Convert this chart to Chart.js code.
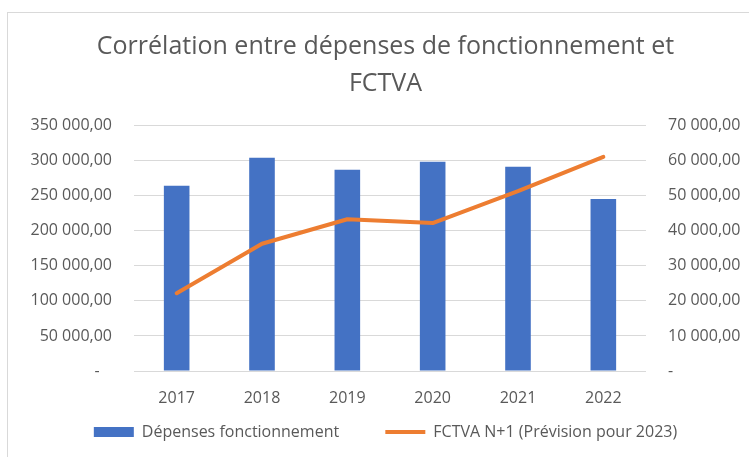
<!DOCTYPE html>
<html>
<head>
<meta charset="utf-8">
<script src="https://cdn.jsdelivr.net/npm/chart.js@4/dist/chart.umd.min.js"></script>
<style>
  html, body { margin: 0; padding: 0; background: #fff; overflow: hidden; }
  #frame { position: absolute; left: 7px; top: 12px; width: 800px; height: 500px; border: 1px solid #d9d9d9; box-sizing: border-box; }
  #c { position: absolute; left: 0; top: 0; }
</style>
</head>
<body>
<div id="frame"></div>
<canvas id="c" width="749" height="457"></canvas>
<script>
const categories = ["2017", "2018", "2019", "2020", "2021", "2022"];
const depensesFonctionnement = [264300, 304300, 287000, 298600, 291300, 245300];
const fctvaN1 = [22200, 36300, 43300, 42200, 51300, 61100];
const seriesNames = ["Dépenses fonctionnement", "FCTVA N+1 (Prévision pour 2023)"];
const titleLines = ["Corrélation entre dépenses de fonctionnement et", "FCTVA"];

const FONT = "'Open Sans', 'Noto Sans', sans-serif";
const GREY = "#595959";

function frNum(v) {
  const fixed = Math.abs(v).toFixed(2);
  const [ip, dp] = fixed.split(".");
  const withSep = ip.replace(/\B(?=(\d{3})+(?!\d))/g, " ");
  return withSep + "," + dp;
}

new Chart(document.getElementById("c"), {
  data: {
    labels: categories,
    datasets: [
      {
        type: "line",
        label: seriesNames[1],
        data: fctvaN1,
        yAxisID: "y1",
        borderColor: "#ED7D31",
        backgroundColor: "#ED7D31",
        borderWidth: 4,
        pointRadius: 0,
        pointHoverRadius: 0,
        borderCapStyle: "round",
        borderJoinStyle: "round",
        tension: 0,
        order: 0
      },
      {
        type: "bar",
        label: seriesNames[0],
        data: depensesFonctionnement,
        yAxisID: "y",
        backgroundColor: "#4472C4",
        borderWidth: 0,
        barPercentage: 0.3,
        categoryPercentage: 1.0,
        order: 1
      }
    ]
  },
  options: {
    responsive: false,
    animation: false,
    devicePixelRatio: 1,
    layout: { padding: { left: 22, right: 0, top: 0, bottom: 7 } },
    plugins: {
      tooltip: { enabled: false },
      title: {
        display: true,
        text: titleLines,
        color: GREY,
        font: { family: FONT, size: 25, weight: "normal", lineHeight: 1.48 },
        padding: { top: 28.5, bottom: 23.2 }
      },
      legend: {
        display: true,
        position: "bottom",
        reverse: true,
        labels: {
          color: GREY,
          font: { family: FONT, size: 16 },
          usePointStyle: true,
          pointStyleWidth: 40,
          boxHeight: 10,
          padding: 10,
          generateLabels: function (chart) {
            const items = Chart.defaults.plugins.legend.labels.generateLabels(chart);
            items.forEach(it => {
              const ds = chart.data.datasets[it.datasetIndex];
              if (ds.type === "bar") {
                it.pointStyle = "rect";
                it.lineWidth = 0;
                it.strokeStyle = ds.backgroundColor;
                it.fillStyle = ds.backgroundColor;
                it.text = ds.label + "\u2003\u2003 ";
              } else {
                it.pointStyle = "line";
                it.lineWidth = 4;
                it.strokeStyle = ds.borderColor;
                it.lineCap = "butt";
              }
            });
            return items;
          }
        }
      }
    },
    scales: {
      x: {
        grid: { display: false, drawTicks: false },
        border: { display: false },
        ticks: { color: GREY, font: { family: FONT, size: 16 }, padding: 18, maxRotation: 0 },
        afterFit: s => { s.height = 43; }
      },
      y: {
        position: "left",
        min: 0,
        max: 350000,
        ticks: {
          stepSize: 50000,
          color: GREY,
          font: { family: FONT, size: 16 },
          padding: 22,
          callback: v => (v === 0 ? "-   " : frNum(v))
        },
        grid: { color: "#D9D9D9", lineWidth: 1, drawTicks: false },
        border: { display: false },
        afterFit: s => { s.width = 112; }
      },
      y1: {
        position: "right",
        min: 0,
        max: 70000,
        ticks: {
          stepSize: 10000,
          color: GREY,
          font: { family: FONT, size: 16 },
          padding: 22,
          callback: v => (v === 0 ? "-" : frNum(v))
        },
        grid: { display: false, drawTicks: false },
        border: { display: false },
        afterFit: s => { s.width = 103; }
      }
    }
  }
});
</script>
</body>
</html>
